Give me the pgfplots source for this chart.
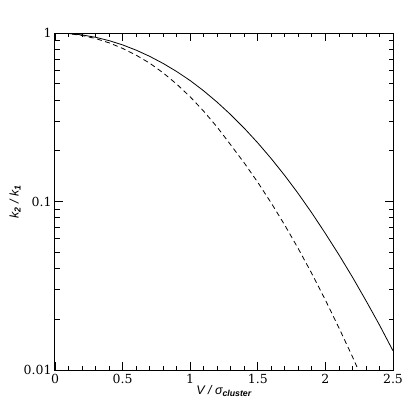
\documentclass[border=0pt]{standalone}
\usepackage{fontspec}
\setmainfont{DejaVu Serif}
\newfontfamily\labfont{Liberation Sans}
\usepackage{pgfplots}
\pgfplotsset{compat=1.18}
\begin{document}
\begin{tikzpicture}[x=1pt,y=1pt]
\path[use as bounding box] (-55,-45) rectangle (360,370);
\begin{axis}[
  at={(0,0)}, anchor=south west,
  scale only axis, width=338pt, height=337pt,
  xmin=0, xmax=2.5, ymin=0.01, ymax=1, ymode=log,
  xtick={0,0.5,1,1.5,2,2.5},
  xticklabels={0,0.5,1,1.5,2,2.5},
  minor x tick num=4,
  ytick={0.01,0.1,1},
  yticklabels={0.01,0.1,1},
  minor ytick={0.02,0.03,0.04,0.05,0.06,0.07,0.08,0.09,0.2,0.3,0.4,0.5,0.6,0.7,0.8,0.9},
  tick align=inside,
  major tick length=8pt, minor tick length=4.5pt,
  every tick/.style={black, line width=0.8pt},
  axis line style={line width=1pt},
  ticklabel style={font=\fontsize{12.5}{14}\selectfont},
  xticklabel style={yshift=-1pt},
  /pgf/number format/assume math mode=true,
  xlabel={\labfont\itshape V / σ\textsubscript{\bfseries cluster}},
  ylabel={\labfont\itshape k\textsubscript{\bfseries 2} / k\textsubscript{\bfseries 1}},
  xlabel style={at={(axis description cs:0.5,0)}, anchor=north, yshift=-12pt, font=\fontsize{12.5}{14}\selectfont},
  ylabel style={at={(axis description cs:-0.118,0.5)}, anchor=center, font=\fontsize{12.5}{14}\selectfont},
]
\addplot[black, line width=0.8pt] coordinates {
(0,1) (0.1,0.9935) (0.2,0.9743) (0.3,0.9432) (0.4,0.9012) (0.5,0.8500)
(0.6,0.7914) (0.7,0.7273) (0.8,0.6597) (0.9,0.5907) (1.0,0.5220)
(1.1,0.4535) (1.2,0.3882) (1.3,0.3275) (1.4,0.2722) (1.5,0.2227)
(1.6,0.1795) (1.7,0.1424) (1.8,0.1112) (1.9,0.0854) (2.0,0.0646)
(2.1,0.0483) (2.2,0.0356) (2.3,0.0258) (2.4,0.0185) (2.5,0.0130)
};
\addplot[black, line width=0.8pt, dash pattern=on 5pt off 3.5pt] coordinates {
(0,1) (0.1,0.9916) (0.2,0.9670) (0.3,0.9272) (0.4,0.8742) (0.5,0.8106)
(0.6,0.7390) (0.7,0.6626) (0.8,0.5801) (0.9,0.4976) (1.0,0.4179)
(1.1,0.3434) (1.2,0.2760) (1.3,0.2166) (1.4,0.1693) (1.5,0.1299)
(1.6,0.0978) (1.7,0.0723) (1.8,0.0524) (1.9,0.0373) (2.0,0.0260)
(2.1,0.0178) (2.2,0.0120) (2.3,0.0079)
};
\end{axis}
\end{tikzpicture}
\end{document}
